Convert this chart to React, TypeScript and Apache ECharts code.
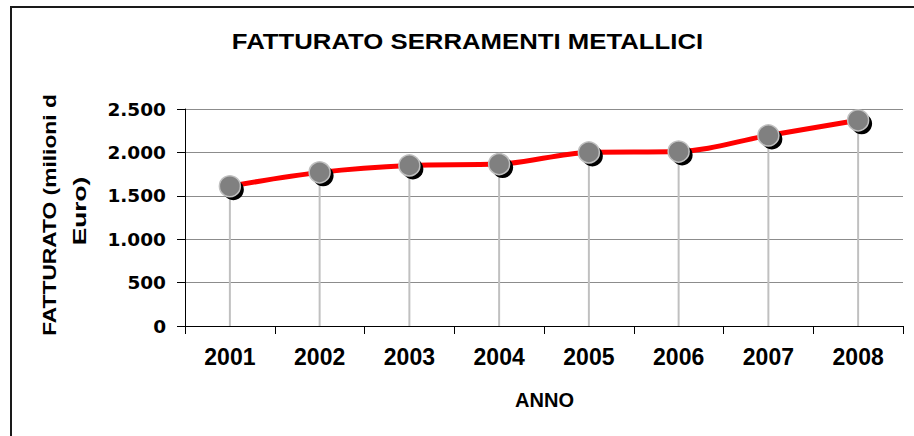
import React, { useEffect, useRef } from "react";
import * as echarts from "echarts";

const years = ["2001", "2002", "2003", "2004", "2005", "2006", "2007", "2008"];
const fatturato = [1610, 1770, 1850, 1865, 2000, 2010, 2195, 2370];
const titleText = "FATTURATO SERRAMENTI METALLICI";
const yNameLines = ["FATTURATO (milioni d", "Euro)"];
const xName = "ANNO";

const fmtThousands = (v: number) =>
  String(v).replace(/\B(?=(\d{3})+(?!\d))/g, ".");

export default function App() {
  const ref = useRef<HTMLDivElement>(null);
  useEffect(() => {
    if (!ref.current) return;
    const chart = echarts.init(ref.current, undefined, { renderer: "svg" });
    const arial = "'Liberation Sans', Arial, sans-serif";
    const dejavu = "'DejaVu Sans', sans-serif";
    chart.setOption({
      animation: false,
      backgroundColor: "#ffffff",
      grid: { left: 185, right: 11, top: 109, bottom: 110, containLabel: false },
      xAxis: {
        type: "category",
        data: years,
        boundaryGap: true,
        axisLine: { lineStyle: { color: "#000", width: 1 } },
        axisTick: { show: true, length: 8, lineStyle: { color: "#000", width: 1 } },
        axisLabel: {
          color: "#000",
          fontFamily: arial,
          fontWeight: "bold",
          fontSize: 23,
          margin: 19,
        },
        splitLine: { show: false },
      },
      yAxis: {
        type: "value",
        min: 0,
        max: 2500,
        interval: 500,
        axisLine: { show: true, lineStyle: { color: "#000", width: 1 } },
        axisTick: { show: true, length: 8, lineStyle: { color: "#000", width: 1 } },
        axisLabel: {
          color: "#000",
          fontFamily: dejavu,
          fontWeight: "bold",
          fontSize: 18.5,
          margin: 19,
          formatter: (v: number) => fmtThousands(v),
        },
        splitLine: { show: true, lineStyle: { color: "#8c8c8c", width: 1 } },
      },
      series: [
        {
          type: "bar",
          data: fatturato,
          barWidth: 2,
          silent: true,
          itemStyle: { color: "#c0c0c0" },
          z: 1,
        },
        {
          type: "line",
          data: fatturato,
          smooth: 0.35,
          showSymbol: false,
          symbol: "none",
          lineStyle: { color: "#ff0000", width: 5 },
          z: 2,
        },
        {
          type: "line",
          data: fatturato,
          symbol: "circle",
          symbolSize: 21,
          symbolOffset: [3.5, 3.5],
          lineStyle: { width: 0, opacity: 0 },
          itemStyle: { color: "#000000" },
          z: 3,
        },
        {
          type: "line",
          data: fatturato,
          symbol: "circle",
          symbolSize: 21,
          lineStyle: { width: 0, opacity: 0 },
          itemStyle: { color: "#808080", borderColor: "#c0c0c0", borderWidth: 1.5 },
          z: 4,
        },
      ],
      graphic: [
        {
          type: "rect",
          shape: { x: 11, y: 7, width: 930, height: 450 },
          style: { fill: "none", stroke: "#1a1a1a", lineWidth: 2 },
          silent: true,
          z: 10,
        },
        {
          type: "text",
          x: 467.5,
          y: 41,
          scaleX: 1.17,
          style: {
            text: titleText,
            fontFamily: arial,
            fontWeight: "bold",
            fontSize: 22,
            fill: "#000",
            textAlign: "center",
            textVerticalAlign: "middle",
          },
        },
        {
          type: "text",
          x: 49,
          y: 215,
          rotation: Math.PI / 2,
          scaleX: 1.2,
          style: {
            text: yNameLines[0],
            fontFamily: arial,
            fontWeight: "bold",
            fontSize: 19,
            fill: "#000",
            textAlign: "center",
            textVerticalAlign: "middle",
          },
        },
        {
          type: "text",
          x: 79,
          y: 211,
          rotation: Math.PI / 2,
          scaleX: 1.38,
          style: {
            text: yNameLines[1],
            fontFamily: arial,
            fontWeight: "bold",
            fontSize: 19,
            fill: "#000",
            textAlign: "center",
            textVerticalAlign: "middle",
          },
        },
        {
          type: "text",
          x: 544.5,
          y: 400,
          style: {
            text: xName,
            fontFamily: arial,
            fontWeight: "bold",
            fontSize: 20,
            fill: "#000",
            textAlign: "center",
            textVerticalAlign: "middle",
          },
        },
      ],
    });
    return () => chart.dispose();
  }, []);
  return (
    <div
      ref={ref}
      style={{ position: "fixed", left: 0, top: 0, width: 914, height: 436, background: "#fff" }}
    />
  );
}
